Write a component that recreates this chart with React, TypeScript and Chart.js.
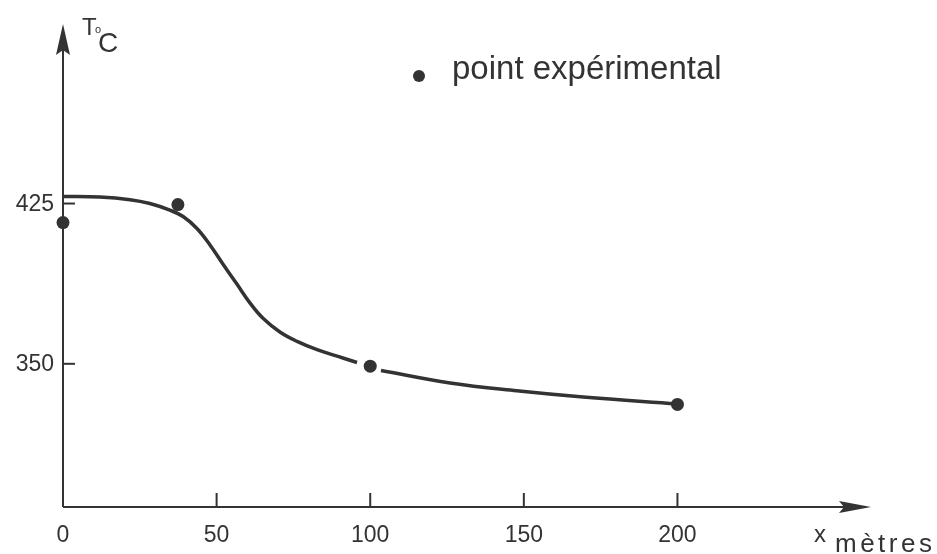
import { useEffect, useRef } from "react";
import { Chart, registerables } from "chart.js";

Chart.register(...registerables);

// ---- data ----
const curveX = [0, 12, 21.8, 28.3, 34.8, 39.1, 43.6, 47.9, 52.1, 56.6, 60.9, 65.1, 70.6, 76.2, 82.7, 91.1, 95.7, 100, 103.5, 126, 147.7, 169.3, 199.8];
const curveY: (number | null)[] = [428.3, 428, 426.8, 425, 421.9, 418.9, 413.3, 405.5, 396.6, 387.3, 378.4, 371.3, 364.9, 360.5, 356.6, 352.7, 350.6, null, 346.9, 341.05, 337.36, 334.45, 331.25];
const pointX = [0, 37.4, 100, 200];
const pointY = [416.1, 424.5, 348.9, 331];
const xTicks = [0, 50, 100, 150, 200];
const yTicks = [350, 425];
const legendLabel = "point expérimental";
const yTitleMain = "T";
const yTitleDeg = "o";
const yTitleUnit = "C";
const xTitle = "x";
const xUnit = "mètres";

const INK = "#333333";
const FONT = "'Liberation Sans', Arial, sans-serif";

const drawPlugin = {
  id: "handDrawnAxes",
  beforeDatasetsDraw(chart: any) {
    const { ctx } = chart;
    const xs = chart.scales.x;
    const ys = chart.scales.y;
    const x0 = xs.getPixelForValue(0);
    const yb = ys.bottom;
    const yt = ys.top;
    const xr = xs.right;
    ctx.save();
    ctx.strokeStyle = INK;
    ctx.fillStyle = INK;
    ctx.lineWidth = 2;
    // y axis
    ctx.beginPath();
    ctx.moveTo(x0, yb);
    ctx.lineTo(x0, yt + 20);
    ctx.stroke();
    ctx.beginPath();
    ctx.moveTo(x0, yt);
    ctx.lineTo(x0 - 7, yt + 31);
    ctx.lineTo(x0, yt + 26);
    ctx.lineTo(x0 + 7, yt + 31);
    ctx.closePath();
    ctx.fill();
    // x axis
    ctx.beginPath();
    ctx.moveTo(x0, yb);
    ctx.lineTo(xr - 20, yb);
    ctx.stroke();
    ctx.beginPath();
    ctx.moveTo(xr, yb);
    ctx.lineTo(xr - 32, yb - 6);
    ctx.lineTo(xr - 27, yb);
    ctx.lineTo(xr - 32, yb + 6);
    ctx.closePath();
    ctx.fill();
    // ticks
    ctx.lineWidth = 2;
    xTicks.forEach((v) => {
      if (v === 0) return;
      const px = xs.getPixelForValue(v);
      ctx.beginPath();
      ctx.moveTo(px, yb);
      ctx.lineTo(px, yb - 14);
      ctx.stroke();
    });
    yTicks.forEach((v) => {
      const py = ys.getPixelForValue(v);
      ctx.beginPath();
      ctx.moveTo(x0, py);
      ctx.lineTo(x0 + 12, py);
      ctx.stroke();
    });
    // tick labels
    ctx.font = `23px ${FONT}`;
    ctx.textBaseline = "middle";
    ctx.textAlign = "center";
    xTicks.forEach((v) => {
      ctx.fillText(String(v), xs.getPixelForValue(v), yb + 29);
    });
    ctx.textAlign = "right";
    yTicks.forEach((v) => {
      ctx.fillText(String(v), x0 - 9, ys.getPixelForValue(v) + 1);
    });
    // axis titles
    ctx.textBaseline = "alphabetic";
    ctx.textAlign = "left";
    ctx.font = `24px ${FONT}`;
    ctx.fillText(yTitleMain, x0 + 19, yt + 11);
    ctx.font = `11px ${FONT}`;
    ctx.fillText(yTitleDeg, x0 + 32, yt + 9);
    ctx.font = `28px ${FONT}`;
    ctx.fillText(yTitleUnit, x0 + 35, yt + 28);
    ctx.font = `24px ${FONT}`;
    ctx.fillText(xTitle, xr - 57, yb + 35);
    ctx.font = `26px ${FONT}`;
    (ctx as any).letterSpacing = "3.5px";
    ctx.fillText(xUnit, xr - 36, yb + 45);
    (ctx as any).letterSpacing = "0px";
    // legend
    ctx.beginPath();
    ctx.arc(419, 76, 6, 0, Math.PI * 2);
    ctx.fill();
    ctx.font = `33px ${FONT}`;
    ctx.fillText(legendLabel, 452, 79);
    ctx.restore();
  },
};

export default function App() {
  const ref = useRef<HTMLCanvasElement | null>(null);
  useEffect(() => {
    if (!ref.current) return;
    const chart = new Chart(ref.current, {
      type: "scatter",
      data: {
        datasets: [
          {
            type: "line",
            label: "courbe",
            data: curveX.map((x, i) => ({ x, y: curveY[i] })) as any,
            borderColor: INK,
            borderWidth: 3.5,
            pointRadius: 0,
            tension: 0.4,
            spanGaps: false,
            fill: false,
            clip: false as any,
          },
          {
            type: "scatter",
            label: legendLabel,
            data: pointX.map((x, i) => ({ x, y: pointY[i] })),
            backgroundColor: INK,
            borderColor: INK,
            pointRadius: 6.5,
            borderWidth: 0,
            clip: false as any,
          },
        ],
      },
      options: {
        animation: false,
        responsive: false,
        devicePixelRatio: 1,
        layout: { padding: { left: 63, right: 66, top: 24, bottom: 47 } },
        plugins: { legend: { display: false }, tooltip: { enabled: false }, title: { display: false } },
        events: [],
        scales: {
          x: { type: "linear", min: 0, max: 263, display: false },
          y: { type: "linear", min: 283, max: 509, display: false },
        },
      },
      plugins: [drawPlugin],
    });
    return () => chart.destroy();
  }, []);
  return (
    <div style={{ position: "fixed", left: 0, top: 0, width: 937, height: 554, background: "#fff" }}>
      <canvas ref={ref} width={937} height={554} />
    </div>
  );
}
